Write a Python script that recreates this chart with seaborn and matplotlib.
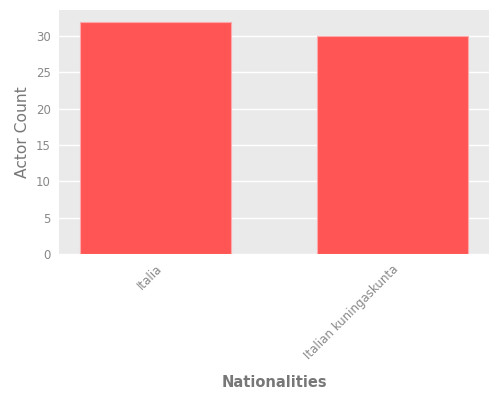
import pandas as pd
import matplotlib
matplotlib.use("Agg")
import matplotlib.pyplot as plt
import seaborn as sns

# dados
nacionalidades = ["Italia", "Italian kuningaskunta"]
contagem = [32, 30]

df = pd.DataFrame({"Nationalities": nacionalidades, "Actor Count": contagem})

sns.set_theme(style="darkgrid", rc={
    "axes.facecolor": "#EAEAEA",
    "grid.color": "white",
    "axes.labelcolor": "#777777",
    "text.color": "#777777",
})
plt.rcParams['font.family'] = ['DejaVu Sans']

fig, ax = plt.subplots(figsize=(5, 4), dpi=100)
sns.barplot(data=df, x="Nationalities", y="Actor Count", color="#FF5555",
            saturation=1, width=0.64, edgecolor="#FFAAAA", linewidth=0.8, ax=ax)

ax.set_xlim(-0.41, 1.41)
ax.set_ylim(0, 33.6)
ax.set_yticks([0, 5, 10, 15, 20, 25, 30])
ax.tick_params(axis="both", labelsize=8.5, length=3, width=0.6,
               color="#BBBBBB", labelcolor="#888888", pad=3)
plt.setp(ax.get_xticklabels(), rotation=45, ha="right", rotation_mode="anchor")
ax.grid(axis="x", visible=False)
ax.set_xlabel("Nationalities", fontsize=10.5, fontweight="bold", labelpad=10)
ax.set_ylabel("Actor Count", fontsize=11.2, fontweight="medium", labelpad=4)
for s in ax.spines.values():
    s.set_visible(False)

fig.subplots_adjust(left=0.118, right=0.978, top=0.975, bottom=0.365)
fig.savefig("out.png")
